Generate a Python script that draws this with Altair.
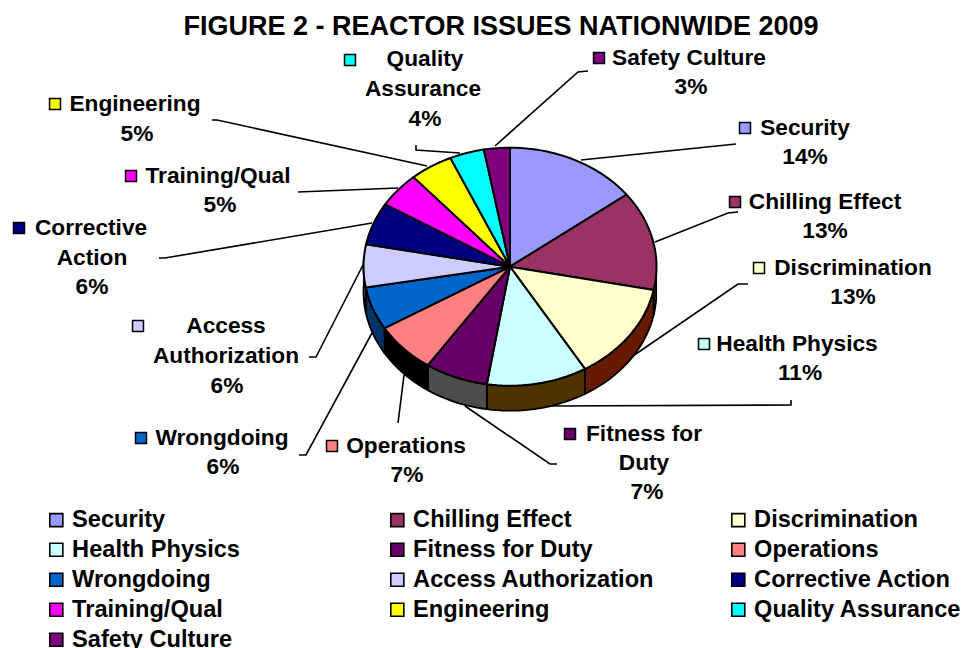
import math
import altair as alt
import pandas as pd

# Slice shares in percent, clockwise from twelve o'clock
categories = ["Security", "Chilling Effect", "Discrimination", "Health Physics",
              "Fitness for Duty", "Operations", "Wrongdoing", "Access Authorization",
              "Corrective Action", "Training/Qual", "Engineering", "Quality Assurance",
              "Safety Culture"]
shares = [14, 13, 13, 11, 7, 7, 6, 6, 6, 5, 5, 4, 3]
top_colors = ["#9999FF", "#993366", "#FFFFCC", "#CCFFFF", "#660066", "#FF8080", "#0066CC",
              "#CCCCFF", "#000080", "#FF00FF", "#FFFF00", "#00FFFF", "#800080"]
wall_colors = ["#4D4D80", "#804D19", "#661A00", "#4D3300", "#4D4D4D", "#000000", "#003366",
               "#666680", "#000040", "#800080", "#808000", "#008080", "#400040"]

# Pie geometry: tilted disc on the 964x648 canvas
CX, CY, RX, RY, DEPTH = 510, 266.7, 146.5, 119, 25
TILT_SKEW = 5.5  # degrees of angular shift caused by the viewing tilt


def warp(deg):
    return deg + TILT_SKEW * math.sin(math.radians(deg / 2))


def rim(deg, drop=0.0):
    a = math.radians(warp(deg))
    return CX + RX * math.sin(a), CY - RY * math.cos(a) + drop


def arc_degrees(a, b):
    n = max(2, int((b - a) / 2) + 1)
    return [a + (b - a) * i / n for i in range(n + 1)]


top_rows, wall_rows = [], []
start = 0.0
for name, share, wall in zip(categories, shares, wall_colors):
    end = start + share * 3.6
    pts = [(CX, CY)] + [rim(d) for d in arc_degrees(start, end)] + [(CX, CY)]
    for i, (x, y) in enumerate(pts):
        top_rows.append({"name": name, "i": i, "x": x, "y": y})
    # Only the front half of the rim shows a side wall
    lo, hi = max(start, 90.0), min(end, 270.0)
    if lo < hi:
        degs = arc_degrees(lo, hi)
        ring = [rim(d) for d in degs] + [rim(d, DEPTH) for d in reversed(degs)]
        ring.append(ring[0])
        for i, (x, y) in enumerate(ring):
            wall_rows.append({"name": name, "wall": wall, "i": i, "x": x, "y": y})
    start = end

top_df = pd.DataFrame(top_rows)
wall_df = pd.DataFrame(wall_rows)

# Callout text, one row per line: text, centre x, centre y
callouts = [
    ("Safety Culture", 689, 58), ("3%", 691, 87),
    ("Security", 805, 128), ("14%", 805, 157),
    ("Chilling Effect", 825, 202), ("13%", 825, 231),
    ("Discrimination", 853, 268), ("13%", 853, 297),
    ("Health Physics", 797, 344), ("11%", 800, 373),
    ("Fitness for", 644, 434), ("Duty", 644, 463), ("7%", 647, 492),
    ("Operations", 406, 446), ("7%", 407, 475),
    ("Wrongdoing", 222, 438), ("6%", 223, 467),
    ("Access", 226, 326), ("Authorization", 226, 356), ("6%", 227, 386),
    ("Corrective", 91, 228), ("Action", 92, 258), ("6%", 92, 287),
    ("Training/Qual", 218, 176), ("5%", 220, 205),
    ("Engineering", 135, 104), ("5%", 137, 134),
    ("Quality", 425, 59), ("Assurance", 423, 89), ("4%", 425, 119),
]
callout_df = pd.DataFrame(callouts, columns=["text", "x", "y"])

# Small colour keys beside the callouts
key_spots = {"Security": (745, 128), "Chilling Effect": (735, 202), "Discrimination": (759, 268),
             "Health Physics": (704, 344), "Fitness for Duty": (570, 434), "Operations": (332, 446),
             "Wrongdoing": (141, 438), "Access Authorization": (138, 326), "Corrective Action": (19, 228),
             "Training/Qual": (131, 176), "Engineering": (55, 104), "Quality Assurance": (350, 60),
             "Safety Culture": (599, 58)}
key_df = pd.DataFrame([{"name": k, "x": v[0], "y": v[1]} for k, v in key_spots.items()])

# Leader lines from the callouts to their slices
leaders = {
    "Safety Culture": [(588, 71), (578, 72), (495, 146)],
    "Security": [(736, 144), (581, 160)],
    "Chilling Effect": [(738, 212), (728, 213), (655, 242)],
    "Discrimination": [(748, 284), (738, 284), (630, 358)],
    "Health Physics": [(791, 400), (791, 405), (550, 406)],
    "Fitness for Duty": [(557, 464), (550, 464), (465, 406)],
    "Operations": [(398, 423), (404, 375)],
    "Wrongdoing": [(299, 455), (306, 455), (372, 333)],
    "Access Authorization": [(309, 357), (316, 357), (363, 265)],
    "Corrective Action": [(159, 258), (165, 258), (372, 223)],
    "Training/Qual": [(298, 192), (398, 188)],
    "Engineering": [(212, 120), (217, 120), (427, 166)],
    "Quality Assurance": [(416, 145), (416, 150), (460, 153)],
}
leader_df = pd.DataFrame([{"name": k, "i": i, "x": p[0], "y": p[1]}
                          for k, pts in leaders.items() for i, p in enumerate(pts)])

title_df = pd.DataFrame([{"text": "FIGURE 2 - REACTOR ISSUES NATIONWIDE 2009", "x": 501, "y": 27}])

FONT = "Liberation Sans"
x_enc = alt.X("x:Q", scale=alt.Scale(domain=[0, 964], nice=False, zero=False), axis=None)
y_enc = alt.Y("y:Q", scale=alt.Scale(domain=[0, 648], nice=False, zero=False, reverse=True), axis=None)
color_scale = alt.Scale(domain=categories, range=top_colors)

leader_layer = alt.Chart(leader_df).mark_line(color="black", strokeWidth=1.6).encode(
    x=x_enc, y=y_enc, detail="name:N", order="i:Q")

wall_layer = alt.Chart(wall_df).mark_line(stroke="black", strokeWidth=1.8, strokeJoin="round").encode(
    x=x_enc, y=y_enc,
    fill=alt.Fill("wall:N", scale=None, legend=None),
    detail="name:N", order="i:Q")

top_layer = alt.Chart(top_df).mark_line(stroke="black", strokeWidth=2, strokeJoin="round").encode(
    x=x_enc, y=y_enc,
    fill=alt.Fill("name:N", scale=color_scale, sort=categories,
                  legend=alt.Legend(
                      title=None, orient="none", legendX=44.5, legendY=508, columns=3,
                      direction="horizontal",
                      gridAlign="all", columnPadding=72, rowPadding=5,
                      symbolType="square", symbolSize=170, symbolStrokeColor="black",
                      symbolStrokeWidth=1.6, symbolOpacity=1,
                      labelFont=FONT, labelFontSize=23.6, labelFontWeight="bold",
                      labelColor="black", labelOffset=4, labelLimit=400)),
    detail="name:N", order="i:Q")

key_layer = alt.Chart(key_df).mark_square(size=120, stroke="black", strokeWidth=1.5, opacity=1).encode(
    x=x_enc, y=y_enc,
    fill=alt.Fill("name:N", scale=color_scale, legend=None))

text_layer = alt.Chart(callout_df).mark_text(
    font=FONT, fontSize=22.7, fontWeight="bold", color="black", align="center", baseline="middle"
).encode(x=x_enc, y=y_enc, text="text:N")

title_layer = alt.Chart(title_df).mark_text(
    font=FONT, fontSize=27, fontWeight="bold", color="black", align="center", baseline="middle"
).encode(x=x_enc, y=y_enc, text="text:N")

chart = alt.layer(leader_layer, wall_layer, top_layer, key_layer, text_layer, title_layer).resolve_scale(
    fill="independent"
).properties(width=964, height=648, padding=0, autosize="none", background="white").configure_view(stroke=None)

chart.save("out.html", embed_options={"renderer": "svg", "actions": False})
